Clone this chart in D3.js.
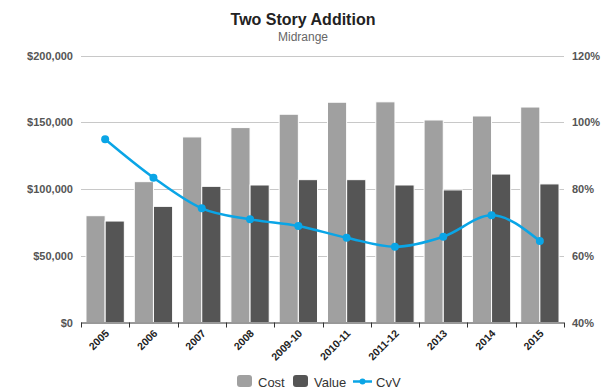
<!DOCTYPE html>
<html><head><meta charset="utf-8">
<script src="https://cdn.jsdelivr.net/npm/d3@7"></script>
<style>body{margin:0;background:#fff;font-family:Arial,"Liberation Sans",sans-serif}</style>
</head><body><svg id="c" width="606" height="392"></svg>
<script>
const categories = ["2005","2006","2007","2008","2009-10","2010-11","2011-12","2013","2014","2015"];
const cost  = [80000,105500,139000,146000,156000,165000,165300,151700,154700,161400];
const value = [76000,87000,102000,103000,107000,107000,103000,99300,111200,103800];
const cvv   = [94.9,83.4,74.2,70.9,68.9,65.4,62.7,65.7,72.1,64.4];
const leftTicks = [0,50000,100000,150000,200000];
const rightTicks = [40,60,80,100,120];

const svg = d3.select("#c");
const L = 81, R = 564, T = 55.5, B = 322.5;
const x = d3.scaleBand().domain(categories).range([L,R]).padding(0);
const xs = d3.scaleBand().domain(["cost","value"]).range([0,x.bandwidth()]).paddingInner(0).paddingOuter(0.26);
const y = d3.scaleLinear().domain([0,200000]).range([B,T]);
const y2 = d3.scaleLinear().domain([40,120]).range([B,T]);

svg.append("text").attr("x",303).attr("y",25).attr("text-anchor","middle")
  .style("font-size","16px").style("font-weight","bold").style("fill","#222").text("Two Story Addition");
svg.append("text").attr("x",303).attr("y",41).attr("text-anchor","middle")
  .style("font-size","12px").style("fill","#666").text("Midrange");

// grid
svg.append("g").selectAll("line").data(leftTicks.filter(d=>d>0)).join("line")
  .attr("x1",L).attr("x2",R).attr("y1",d=>Math.round(y(d))+0.5).attr("y2",d=>Math.round(y(d))+0.5)
  .attr("stroke","#c8c8c8").attr("stroke-width",1);

// left axis labels
const la = svg.append("g").attr("transform",`translate(${L},0)`)
  .call(d3.axisLeft(y).tickValues(leftTicks).tickSize(0).tickPadding(8).tickFormat(d=>"$"+d3.format(",")(d)));
la.select(".domain").remove();
la.selectAll("text").style("font-size","11px").style("font-weight","bold").style("fill","#555").style("font-family","Arial,'Liberation Sans',sans-serif");

const ra = svg.append("g").attr("transform",`translate(${R},0)`)
  .call(d3.axisRight(y2).tickValues(rightTicks).tickSize(0).tickPadding(8).tickFormat(d=>d+"%"));
ra.select(".domain").remove();
ra.selectAll("text").style("font-size","11px").style("font-weight","bold").style("fill","#555").style("font-family","Arial,'Liberation Sans',sans-serif");

// bars
const g = svg.append("g");
categories.forEach((c,i)=>{
  [["cost",cost[i],"#a0a0a0"],["value",value[i],"#555555"]].forEach(([k,v,col])=>{
    g.append("rect").attr("x",x(c)+xs(k)).attr("width",xs.bandwidth())
      .attr("y",y(v)).attr("height",B-y(v)).attr("fill",col)
      .attr("stroke","#fff").attr("stroke-width",1);
  });
});

// bottom axis
svg.append("line").attr("x1",L).attr("x2",R).attr("y1",B+0.5).attr("y2",B+0.5).attr("stroke","#333");
const bounds = categories.map(c=>x(c)).concat([R]);
svg.append("g").selectAll("line").data(bounds).join("line")
  .attr("x1",d=>Math.round(d)+0.5).attr("x2",d=>Math.round(d)+0.5).attr("y1",B).attr("y2",B+5).attr("stroke","#333");
svg.append("g").selectAll("text").data(categories).join("text")
  .attr("transform",d=>`translate(${x(d)+x.bandwidth()/2+2},${B+9}) rotate(-45)`)
  .attr("text-anchor","end").attr("dy","0.35em")
  .style("font-size","10.5px").style("font-weight","bold").style("fill","#222").text(d=>d);

// line
const line = d3.line().x((d,i)=>x(categories[i])+x.bandwidth()/2).y(d=>y2(d)).curve(d3.curveMonotoneX);
svg.append("path").attr("d",line(cvv)).attr("fill","none").attr("stroke","#0aa5e6").attr("stroke-width",2.5);
svg.append("g").selectAll("circle").data(cvv).join("circle")
  .attr("cx",(d,i)=>x(categories[i])+x.bandwidth()/2).attr("cy",d=>y2(d)).attr("r",4).attr("fill","#0aa5e6");

// legend
const lg = svg.append("g");
const ly = 387;
lg.append("rect").attr("x",237).attr("y",375).attr("width",15).attr("height",12).attr("rx",3).attr("fill","#a0a0a0");
lg.append("text").attr("x",258).attr("y",ly).style("font-size","13px").style("fill","#333").text("Cost");
lg.append("rect").attr("x",293).attr("y",375).attr("width",15).attr("height",12).attr("rx",3).attr("fill","#555555");
lg.append("text").attr("x",314).attr("y",ly).style("font-size","13px").style("fill","#333").text("Value");
lg.append("line").attr("x1",353).attr("x2",372).attr("y1",381.5).attr("y2",381.5).attr("stroke","#0aa5e6").attr("stroke-width",2.5);
lg.append("circle").attr("cx",362.5).attr("cy",381.5).attr("r",3).attr("fill","#0aa5e6");
lg.append("text").attr("x",376).attr("y",ly).style("font-size","13px").style("fill","#333").text("CvV");
</script></body></html>
